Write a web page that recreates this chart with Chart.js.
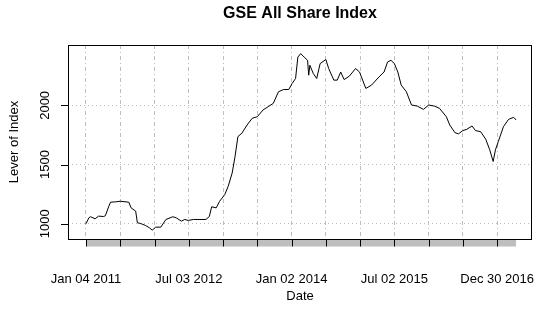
<!DOCTYPE html>
<html>
<head>
<meta charset="utf-8">
<script src="https://cdn.jsdelivr.net/npm/chart.js@4.4.1/dist/chart.umd.min.js"></script>
<style>
  html, body { margin: 0; padding: 0; background: #fff; }
  #wrap { width: 543px; height: 312px; position: relative; }
</style>
</head>
<body>
<div id="wrap"><canvas id="myChart"></canvas></div>
<script>
// x = months since Jan 04 2011
const months = [0, 0.5, 0.8, 1.6, 2.2, 3.1, 3.4, 4.0, 4.3, 5.2, 6.0, 7.5, 7.9, 8.7, 9.0, 9.5,
  10.4, 11.1, 11.6, 12.2, 13.1, 14.0, 15.2, 15.8, 16.7, 17.3, 17.9, 18.8, 19.8, 21.0, 21.6,
  22.0, 22.8, 23.4, 24.3, 24.9, 25.6, 26.1, 26.6, 27.3, 28.2, 29.1, 30.0, 31.0, 31.9, 32.8,
  33.7, 34.6, 35.5, 36.1, 36.7, 37.1, 37.6, 38.2, 38.8, 39.0, 39.2, 39.8, 40.4, 41.0, 42.0,
  42.5, 43.4, 44.0, 44.6, 45.2, 46.1, 47.2, 47.9, 49.0, 50.0, 51.3, 52.2, 52.8, 53.4, 54.0,
  54.6, 55.2, 56.1, 57.0, 58.0, 59.1, 60.0, 61.0, 61.9, 63.1, 63.7, 64.6, 65.2, 66.0, 66.7,
  67.6, 68.2, 69.1, 70.0, 70.7, 71.3, 71.7, 72.2, 73.1, 74.0, 74.9, 75.3];
const index = [1000, 1050, 1059, 1042, 1064, 1061, 1068, 1148, 1182, 1185, 1190, 1182, 1134, 1106, 1008, 1003,
  986, 966, 946, 971, 971, 1036, 1059, 1050, 1022, 1036, 1028, 1036, 1036, 1036, 1061,
  1143, 1134, 1190, 1246, 1316, 1429, 1568, 1736, 1765, 1834, 1891, 1904, 1961, 1989, 2017,
  2115, 2134, 2134, 2185, 2227, 2408, 2437, 2408, 2381, 2255, 2339, 2269, 2227, 2353, 2387,
  2311, 2213, 2213, 2282, 2218, 2246, 2311, 2282, 2143, 2171, 2240, 2282, 2366, 2381, 2353,
  2282, 2171, 2115, 2003, 1994, 1966, 2003, 1994, 1975, 1904, 1834, 1770, 1759, 1787, 1798,
  1826, 1787, 1778, 1714, 1624, 1526, 1624, 1694, 1820, 1882, 1899, 1877];

const gridMonths = [0, 6, 12, 18, 24, 30, 36, 42, 48, 54, 60, 66, 72];
const labelMonths = [0, 18, 36, 54, 72];
const tickLabels = ['Jan 04 2011', 'Jul 03 2012', 'Jan 02 2014', 'Jul 02 2015', 'Dec 30 2016'];
const yTicks = [1000, 1500, 2000];

const FONT = "'Liberation Sans', Arial, sans-serif";

// base-graphics style frame, ticks and texts
const rFrame = {
  id: 'rFrame',
  afterDraw(chart) {
    const {ctx, chartArea: {left, top, right, bottom}, scales: {x, y}} = chart;
    ctx.save();
    ctx.fillStyle = '#000';
    ctx.textAlign = 'center';
    ctx.textBaseline = 'middle';

    // box
    ctx.strokeStyle = '#000';
    ctx.lineWidth = 1;
    ctx.strokeRect(Math.round(left) + 0.5, Math.round(top) + 0.5,
      Math.round(right - left) - 1, Math.round(bottom - top));

    // gray band of observation ticks
    const x0 = x.getPixelForValue(months[0]);
    const x1 = x.getPixelForValue(months[months.length - 1]);
    ctx.fillStyle = '#bebebe';
    ctx.fillRect(x0, bottom + 1, x1 - x0, 6.5);

    // major x ticks
    ctx.beginPath();
    gridMonths.forEach(m => {
      const px = Math.round(x.getPixelForValue(m)) + 0.5;
      ctx.moveTo(px, bottom);
      ctx.lineTo(px, bottom + 7.5);
    });
    // y ticks
    yTicks.forEach(v => {
      const py = Math.round(y.getPixelForValue(v)) + 0.5;
      ctx.moveTo(left, py);
      ctx.lineTo(left - 7, py);
    });
    ctx.stroke();

    ctx.fillStyle = '#000';
    ctx.font = '13px ' + FONT;
    labelMonths.forEach((m, i) => {
      ctx.fillText(tickLabels[i], x.getPixelForValue(m), 279.5);
    });
    yTicks.forEach(v => {
      ctx.save();
      ctx.translate(45, y.getPixelForValue(v));
      ctx.rotate(-Math.PI / 2);
      ctx.fillText(String(v), 0, 0);
      ctx.restore();
    });

    // axis titles
    ctx.fillText('Date', (left + right) / 2, 296);
    ctx.save();
    ctx.translate(14, (top + bottom) / 2);
    ctx.rotate(-Math.PI / 2);
    ctx.fillText('Lever of Index', 0, 0);
    ctx.restore();

    // main title
    ctx.font = 'bold 16px ' + FONT;
    ctx.fillText('GSE All Share Index', (left + right) / 2, 14);
    ctx.restore();
  }
};

const ctx = document.getElementById('myChart');
new Chart(ctx, {
  type: 'line',
  data: {
    datasets: [{
      data: months.map((m, i) => ({x: m, y: index[i]})),
      borderColor: '#000',
      borderWidth: 1,
      pointRadius: 0,
      tension: 0,
      fill: false
    }]
  },
  options: {
    responsive: true,
    maintainAspectRatio: false,
    animation: false,
    devicePixelRatio: 1,
    layout: { padding: { left: 68, right: 11, top: 45, bottom: 73 } },
    plugins: { legend: { display: false }, title: { display: false }, tooltip: { enabled: false } },
    scales: {
      x: {
        type: 'linear',
        min: -3.15,
        max: 78.1,
        afterBuildTicks: s => { s.ticks = gridMonths.map(v => ({value: v})); },
        ticks: { display: false },
        grid: { color: '#bdbdbd', lineWidth: 1, drawTicks: false },
        border: { display: false, dash: [4, 3, 1, 3] }
      },
      y: {
        min: 871,
        max: 2510,
        afterBuildTicks: s => { s.ticks = yTicks.map(v => ({value: v})); },
        ticks: { display: false },
        grid: { color: '#bdbdbd', lineWidth: 1, drawTicks: false },
        border: { display: false, dash: [1, 3] }
      }
    }
  },
  plugins: [rFrame]
});
</script>
</body>
</html>
